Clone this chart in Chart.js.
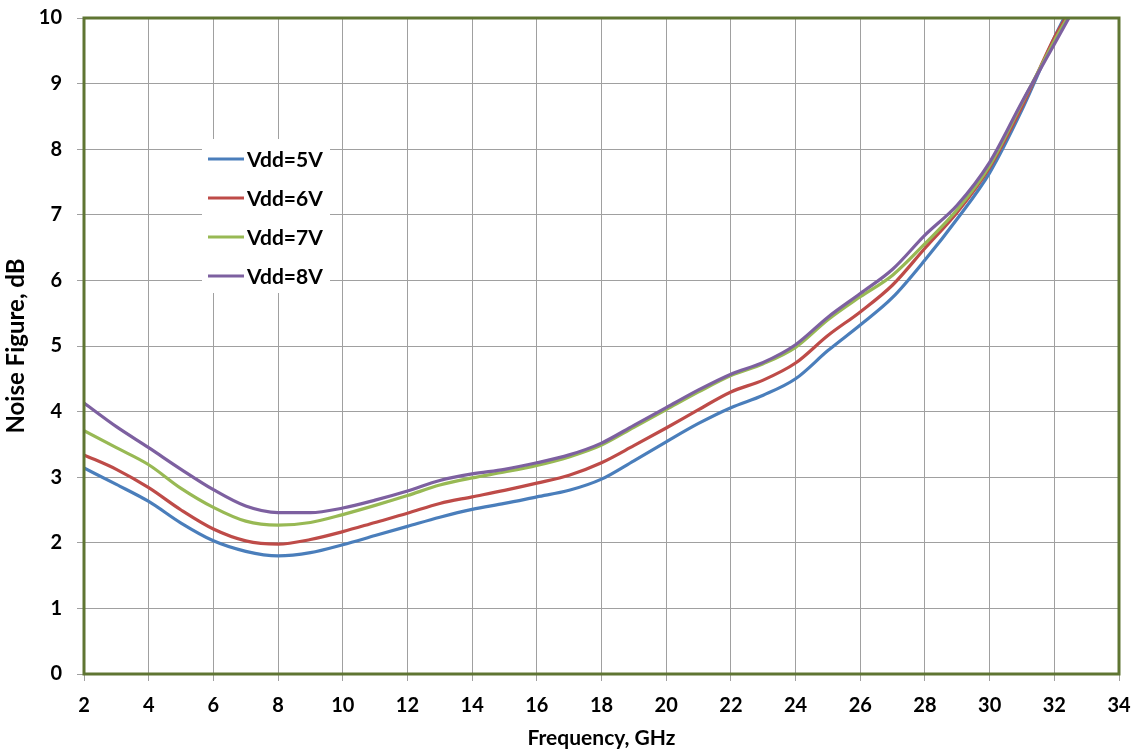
<!DOCTYPE html>
<html>
<head>
<meta charset="utf-8">
<script src="https://cdn.jsdelivr.net/npm/chart.js@4"></script>
<style>
html,body{margin:0;padding:0;background:#fff;}
canvas{display:block;}
</style>
</head>
<body>
<canvas id="c" width="1139" height="754"></canvas>
<script>
// ---- data ----
const freqGHz = [2,3,4,5,6,7,8,9,10,11,12,13,14,15,16,17,18,19,20,21,22,23,24,25,26,27,28,29,30,31,32];
const seriesLabels = ["Vdd=5V","Vdd=6V","Vdd=7V","Vdd=8V"];
const nf5V = [3.14,2.89,2.63,2.30,2.03,1.87,1.80,1.85,1.97,2.11,2.25,2.39,2.51,2.60,2.70,2.80,2.97,3.25,3.54,3.82,4.06,4.25,4.50,4.93,5.32,5.74,6.31,6.94,7.64,8.60,9.70];
const nf6V = [3.34,3.12,2.84,2.50,2.21,2.03,1.98,2.05,2.17,2.31,2.45,2.60,2.70,2.80,2.91,3.03,3.22,3.48,3.75,4.03,4.30,4.48,4.74,5.16,5.52,5.93,6.49,7.04,7.72,8.65,9.70];
const nf7V = [3.71,3.45,3.19,2.83,2.54,2.33,2.27,2.31,2.43,2.57,2.72,2.88,2.99,3.08,3.18,3.31,3.49,3.76,4.03,4.30,4.55,4.73,4.98,5.40,5.75,6.08,6.56,7.08,7.75,8.70,9.65];
const nf8V = [4.13,3.77,3.45,3.12,2.81,2.56,2.46,2.46,2.53,2.65,2.79,2.95,3.05,3.12,3.22,3.34,3.52,3.79,4.06,4.33,4.57,4.75,5.02,5.44,5.80,6.17,6.69,7.15,7.80,8.72,9.60];
// frequency where each curve leaves the top of the plot (NF = 10 dB)
const exitFreq = [32.3, 32.35, 32.4, 32.45];
const exitNF = 10;
const xTicks = [2,4,6,8,10,12,14,16,18,20,22,24,26,28,30,32,34];
const yTicks = [0,1,2,3,4,5,6,7,8,9,10];

const colors = ["#4A7EBB","#BE4B48","#98B954","#7D60A0"];
const allSeries = [nf5V, nf6V, nf7V, nf8V];

const FONT = "Lato, 'Open Sans', sans-serif";

const datasets = allSeries.map((vals, i) => {
  const pts = freqGHz.map((f, k) => ({x: f, y: vals[k]}));
  pts.push({x: exitFreq[i], y: exitNF});
  return {
    label: seriesLabels[i],
    data: pts,
    borderColor: colors[i],
    backgroundColor: colors[i],
    borderWidth: 3.2,
    pointRadius: 0,
    cubicInterpolationMode: 'monotone',
    fill: false,
    order: 3 - i
  };
});

const framePlugin = {
  id: 'frame',
  afterDatasetsDraw(chart) {
    const {ctx, chartArea: a} = chart;
    ctx.save();
    ctx.strokeStyle = '#5F7532';
    ctx.lineWidth = 3;
    ctx.strokeRect(a.left, a.top, a.right - a.left, a.bottom - a.top);
    ctx.restore();
  }
};

const legendPlugin = {
  id: 'boxLegend',
  afterDraw(chart) {
    const ctx = chart.ctx;
    ctx.save();
    ctx.fillStyle = '#fff';
    ctx.fillRect(202, 139, 128, 154);
    ctx.font = "bold 21px " + FONT;
    ctx.textBaseline = 'middle';
    ctx.textAlign = 'left';
    const y0 = 159, dy = 39;
    chart.data.datasets.forEach((ds, i) => {
      const y = y0 + i * dy;
      ctx.strokeStyle = ds.borderColor;
      ctx.lineWidth = 3;
      ctx.beginPath();
      ctx.moveTo(208, y);
      ctx.lineTo(244, y);
      ctx.stroke();
      ctx.fillStyle = '#000';
      ctx.fillText(ds.label, 247, y + 1);
    });
    ctx.restore();
  }
};

new Chart(document.getElementById('c'), {
  type: 'line',
  data: { datasets },
  plugins: [framePlugin, legendPlugin],
  options: {
    responsive: false,
    animation: false,
    layout: { padding: { top: 18, right: 20, left: 0, bottom: 0 } },
    plugins: { legend: { display: false }, tooltip: { enabled: false } },
    scales: {
      x: {
        type: 'linear',
        min: 2, max: 34,
        afterBuildTicks(scale) { scale.ticks = xTicks.map(v => ({value: v})); },
        afterFit(scale) { scale.height = 80; scale.paddingLeft = 0; scale.paddingRight = 0; },
        grid: { color: '#A0A0A0', lineWidth: 1, tickLength: 7, drawTicks: true, tickColor: '#A0A0A0' },
        border: { display: false },
        ticks: { color: '#000', font: { family: FONT, size: 20, weight: 'bold' }, padding: 13, maxRotation: 0, autoSkip: false },
        title: { display: true, text: 'Frequency, GHz', color: '#000', font: { family: FONT, size: 21, weight: 'bold' }, padding: { top: 0, bottom: 3 } }
      },
      y: {
        type: 'linear',
        min: 0, max: 10,
        afterBuildTicks(scale) { scale.ticks = yTicks.map(v => ({value: v})); },
        afterFit(scale) { scale.width = 84; scale.paddingTop = 0; scale.paddingBottom = 0; },
        grid: { color: '#A0A0A0', lineWidth: 1, tickLength: 7, drawTicks: true, tickColor: '#A0A0A0' },
        border: { display: false },
        ticks: { color: '#000', font: { family: FONT, size: 20, weight: 'bold' }, padding: 15 },
        title: { display: true, text: 'Noise Figure, dB', color: '#000', font: { family: FONT, size: 24, weight: 'bold' }, padding: { top: 2, bottom: 0 } }
      }
    }
  }
});
</script>
</body>
</html>
